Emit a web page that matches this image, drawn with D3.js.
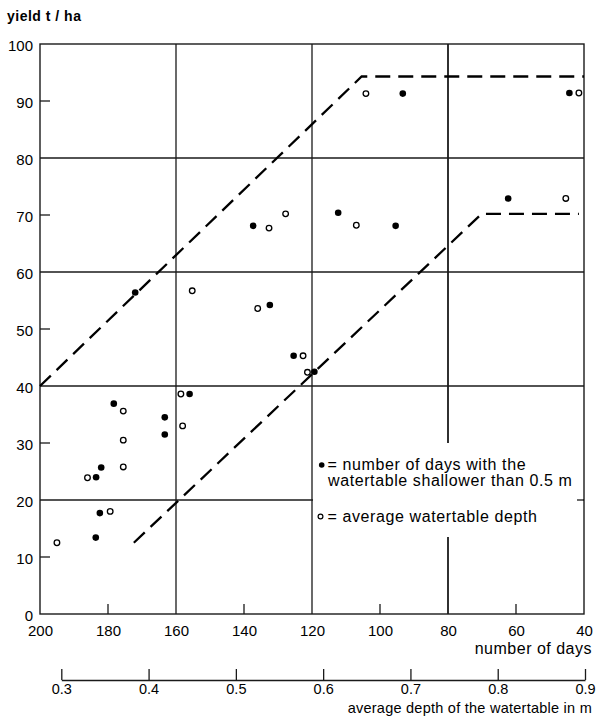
<!DOCTYPE html>
<html>
<head>
<meta charset="utf-8">
<script src="https://cdn.jsdelivr.net/npm/d3@7"></script>
<style>
  html, body { margin: 0; padding: 0; background: #fff; }
  svg { display: block; font-family: "Liberation Sans", Arial, Helvetica, sans-serif; }
</style>
</head>
<body>
<svg id="chart" width="599" height="718"></svg>
<script>
// ---- data ----
const dayTicks = [200, 180, 160, 140, 120, 100, 80, 60, 40];
const dayGrid = [160, 120, 80];
const dayMinor = [180, 140, 100, 60];
const depthTicks = [0.3, 0.4, 0.5, 0.6, 0.7, 0.8, 0.9];
const yieldTicks = [0, 10, 20, 30, 40, 50, 60, 70, 80, 90, 100];
const yieldGrid = [20, 40, 60, 80];
const yieldMinor = [10, 30, 50, 70, 90];

// filled dots: number of days with watertable shallower than 0.5 m
const filledDays  = [172, 156, 178.3, 163.3, 163.3, 182, 183.5, 182.4, 183.6, 132.4, 125.4, 119.3, 137.3, 112.3, 95.4, 93.3, 44.3, 62.3];
const filledYield = [56.4, 38.6, 36.9, 34.5, 31.5, 25.7, 24.0, 17.7, 13.4, 54.2, 45.3, 42.5, 68.1, 70.4, 68.1, 91.3, 91.4, 72.9];

// open dots: average watertable depth (m)
const openDepth = [0.450, 0.437, 0.371, 0.439, 0.371, 0.371, 0.330, 0.356, 0.295, 0.525, 0.577, 0.582, 0.538, 0.557, 0.638, 0.649, 0.893, 0.878];
const openYield = [56.7, 38.6, 35.6, 33.0, 30.5, 25.8, 23.9, 18.0, 12.5, 53.6, 45.3, 42.4, 67.7, 70.2, 68.2, 91.3, 91.4, 72.9];

// dashed envelope lines (days, yield)
const upperDays  = [200, 105.4, 40];
const upperYield = [40, 94.3, 94.3];
const lowerDays  = [172.4, 70.1, 41.5];
const lowerYield = [12.5, 70.2, 70.2];

// ---- scales ----
const svg = d3.select("#chart");
const x = d3.scaleLinear().domain([200, 40]).range([40, 584]);
const y = d3.scaleLinear().domain([0, 100]).range([614, 44]);
const depth = d3.scaleLinear().domain([0.3, 0.9]).range([61.3, 585]);

const ink = "#1a1a1a";

// grid lines
svg.append("g").selectAll("line").data(yieldGrid).join("line")
  .attr("x1", x(200)).attr("x2", x(40))
  .attr("y1", d => y(d)).attr("y2", d => y(d))
  .attr("stroke", ink).attr("stroke-width", 1.3);
svg.append("g").selectAll("line").data(dayGrid).join("line")
  .attr("x1", d => x(d)).attr("x2", d => x(d))
  .attr("y1", y(100)).attr("y2", y(0))
  .attr("stroke", ink).attr("stroke-width", d => d === 80 ? 1.8 : 1.3);

// minor ticks
svg.append("g").selectAll("line").data(yieldMinor).join("line")
  .attr("x1", x(200)).attr("x2", x(200) + 10)
  .attr("y1", d => y(d)).attr("y2", d => y(d))
  .attr("stroke", ink).attr("stroke-width", 1.3);
svg.append("g").selectAll("line").data(dayMinor).join("line")
  .attr("x1", d => x(d)).attr("x2", d => x(d))
  .attr("y1", y(0)).attr("y2", y(0) - 10)
  .attr("stroke", ink).attr("stroke-width", 1.3);

// legend background (interrupts grid lines)
const lg = { x0: x(120) + 1, x1: x(40) - 1, y0: 443, y1: 537 };
svg.append("rect")
  .attr("x", lg.x0).attr("y", lg.y0)
  .attr("width", lg.x1 - lg.x0).attr("height", lg.y1 - lg.y0)
  .attr("fill", "#fff");
// small stub of the 20 grid line at right edge
svg.append("line")
  .attr("x1", x(40) - 7).attr("x2", x(40))
  .attr("y1", y(20)).attr("y2", y(20))
  .attr("stroke", ink).attr("stroke-width", 1.3);

// plot frame
svg.append("rect")
  .attr("x", x(200)).attr("y", y(100))
  .attr("width", x(40) - x(200)).attr("height", y(0) - y(100))
  .attr("fill", "none").attr("stroke", ink).attr("stroke-width", 1.4);

// envelope lines
const line = d3.line().x(d => x(d[0])).y(d => y(d[1]));
[[upperDays, upperYield], [lowerDays, lowerYield]].forEach(([ds, ys]) => {
  svg.append("path")
    .attr("d", line(ds.map((d, i) => [d, ys[i]])))
    .attr("fill", "none").attr("stroke", "#000")
    .attr("stroke-width", 2.3)
    .attr("stroke-dasharray", "15,8");
});

// points
svg.append("g").selectAll("circle").data(filledDays.map((d, i) => [d, filledYield[i]])).join("circle")
  .attr("cx", d => x(d[0])).attr("cy", d => y(d[1])).attr("r", 3.3)
  .attr("fill", "#000");
svg.append("g").selectAll("circle").data(openDepth.map((d, i) => [d, openYield[i]])).join("circle")
  .attr("cx", d => depth(d[0])).attr("cy", d => y(d[1])).attr("r", 2.8)
  .attr("fill", "#fff").attr("stroke", "#000").attr("stroke-width", 1.3);

// y axis labels
const yAxis = svg.append("g").attr("transform", `translate(${x(200)},1)`)
  .call(d3.axisLeft(y).tickValues(yieldTicks).tickSize(0).tickPadding(7));
yAxis.select(".domain").remove();
yAxis.selectAll("text").attr("font-size", 15).attr("fill", "#000").attr("dy", "0.36em")
  .attr("font-family", "'Liberation Sans', Arial, sans-serif");

// days axis labels
const xAxis = svg.append("g").attr("transform", `translate(0,${y(0)})`)
  .call(d3.axisBottom(x).tickValues(dayTicks).tickSize(0).tickPadding(11));
xAxis.select(".domain").remove();
xAxis.selectAll("text").attr("font-size", 15).attr("fill", "#000")
  .attr("font-family", "'Liberation Sans', Arial, sans-serif");

svg.append("text").attr("x", 592).attr("y", 654).attr("text-anchor", "end")
  .attr("font-size", 16).attr("letter-spacing", 0.5).text("number of days");

// depth axis
const dAxis = svg.append("g").attr("transform", "translate(0,680)")
  .call(d3.axisBottom(depth).tickValues(depthTicks).tickFormat(d3.format(".1f"))
    .tickSizeInner(-11).tickSizeOuter(0).tickPadding(4));
dAxis.select(".domain").attr("stroke", ink).attr("stroke-width", 1.3);
dAxis.selectAll(".tick line").attr("stroke", ink).attr("stroke-width", 1.3);
dAxis.selectAll("text").attr("font-size", 14.5).attr("fill", "#000")
  .attr("font-family", "'Liberation Sans', Arial, sans-serif");

svg.append("text").attr("x", 592).attr("y", 712.5).attr("text-anchor", "end")
  .attr("font-size", 14.5).attr("letter-spacing", 0.25).text("average depth of the watertable in m");

// y title
svg.append("text").attr("x", 7).attr("y", 21)
  .attr("font-size", 14).attr("font-weight", "bold").attr("letter-spacing", 0.5)
  .text("yield t / ha");

// legend
svg.append("circle").attr("cx", 321.7).attr("cy", 465).attr("r", 2.8).attr("fill", "#000");
svg.append("text").attr("x", 327.5).attr("y", 469.5).attr("font-size", 16).attr("letter-spacing", 0.6)
  .text("= number of days with the");
svg.append("text").attr("x", 328).attr("y", 485.5).attr("font-size", 16).attr("letter-spacing", 0.6)
  .text("watertable shallower than 0.5 m");
svg.append("circle").attr("cx", 320.5).attr("cy", 516.5).attr("r", 2.4)
  .attr("fill", "#fff").attr("stroke", "#000").attr("stroke-width", 1.2);
svg.append("text").attr("x", 327.5).attr("y", 521.5).attr("font-size", 16).attr("letter-spacing", 0.6)
  .text("= average watertable depth");
</script>
</body>
</html>
